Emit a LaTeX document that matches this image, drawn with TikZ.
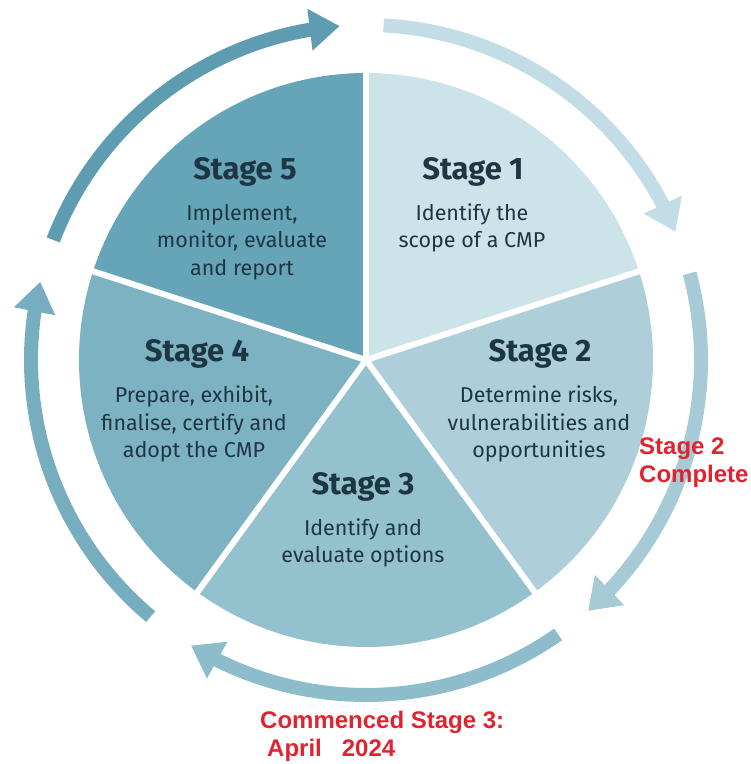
\documentclass[tikz,border=0pt]{standalone}
\usepackage{fontspec}
\setmainfont{Fira Sans}
\newfontfamily\notefont{Liberation Sans}
\usetikzlibrary{arrows.meta,bending}
\definecolor{stageone}{HTML}{CDE3EA}
\definecolor{stagetwo}{HTML}{AECFD9}
\definecolor{stagethree}{HTML}{94C1CE}
\definecolor{stagefour}{HTML}{7DB2C2}
\definecolor{stagefive}{HTML}{66A4B8}
\definecolor{arrowone}{HTML}{C2DDE5}
\definecolor{arrowtwo}{HTML}{A7CBD6}
\definecolor{arrowthree}{HTML}{8DBCCA}
\definecolor{arrowfour}{HTML}{76AEBF}
\definecolor{arrowfive}{HTML}{5E9DB1}
\definecolor{stagetext}{HTML}{1E3643}
\definecolor{notered}{HTML}{E0232E}
\tikzset{
  stagetitle/.style={font=\fontsize{31}{33}\selectfont\bfseries, text=stagetext},
  stagebody/.style={font=\fontsize{21.5}{27.5}\selectfont, text=stagetext, align=center},
  cyclearrow/.style={line width=14pt, -{Triangle[width=40pt,length=30pt]}},
  gapline/.style={white, line width=6pt},
  note/.style={font=\notefont\fontsize{24}{28}\selectfont\bfseries, text=notered, align=left, inner sep=0pt},
}
\begin{document}
\begin{tikzpicture}[x=1pt,y=1pt]
  \useasboundingbox (0,0) rectangle (751,764);
  \coordinate (c) at (366,404);
  % sectors
  \fill[stageone] (c) -- ++(90:287) arc[start angle=90, end angle=18, radius=287] -- cycle;
  \fill[stagetwo] (c) -- ++(18:287) arc[start angle=18, end angle=-54, radius=287] -- cycle;
  \fill[stagethree] (c) -- ++(-54:287) arc[start angle=-54, end angle=-126, radius=287] -- cycle;
  \fill[stagefour] (c) -- ++(-126:287) arc[start angle=-126, end angle=-198, radius=287] -- cycle;
  \fill[stagefive] (c) -- ++(162:287) arc[start angle=162, end angle=90, radius=287] -- cycle;
  \foreach \a in {90,18,-54,-126,162}
    \draw[gapline] (c) -- ++(\a:292);
  % cycle arrows
  \draw[cyclearrow, arrowfive] (c) ++(159:335) arc[start angle=159, end angle=94.5, radius=335];
  \draw[cyclearrow, arrowone] (c) ++(87:335) arc[start angle=87, end angle=22.5, radius=335];
  \draw[cyclearrow, arrowtwo] (c) ++(15:335) arc[start angle=15, end angle=-48.5, radius=335];
  \draw[cyclearrow, arrowthree] (c) ++(-55:335) arc[start angle=-55, end angle=-121.5, radius=335];
  \draw[cyclearrow, arrowfour] (c) ++(-130:335) arc[start angle=-130, end angle=-193.5, radius=335];
  % texts
  \node[stagetitle] (t1) at (473,592) {Stage 1};
  \node[stagebody] (b1) at (472,536) {Identify the\\scope of a CMP};
  \node[stagetitle] (t2) at (540,410) {Stage 2};
  \node[stagebody] (b2) at (539,340) {Determine risks,\\vulnerabilities and\\opportunities};
  \node[stagetitle] (t3) at (363,277) {Stage 3};
  \node[stagebody] (b3) at (363,221) {Identify and\\evaluate options};
  \node[stagetitle] (t4) at (197,410) {Stage 4};
  \node[stagebody] (b4) at (194,340) {Prepare, exhibit,\\finalise, certify and\\adopt the CMP};
  \node[stagetitle] (t5) at (245,592) {Stage 5};
  \node[stagebody] (b5) at (242,522) {Implement,\\monitor, evaluate\\and report};
  \node[note, anchor=west] (done) at (639,301) {Stage 2\\Complete};
  \node[note, anchor=west] (begun) at (260,28) {Commenced Stage 3:\\\hspace*{7pt}April\hspace{20pt}2024};
\end{tikzpicture}
\end{document}
